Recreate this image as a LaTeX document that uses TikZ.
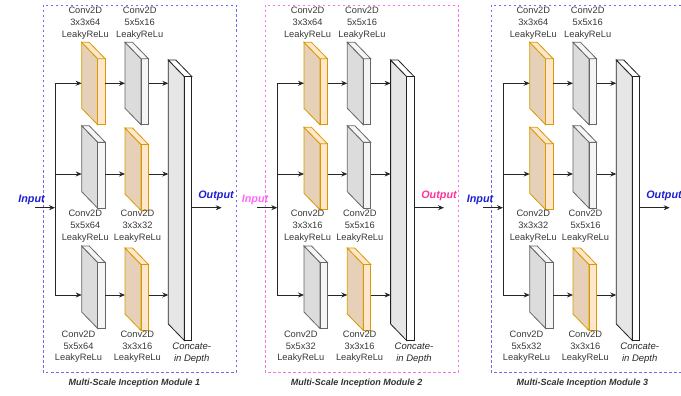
\documentclass[tikz,border=0pt]{standalone}
\usepackage{fontspec}
\setmainfont{Liberation Sans}
\usetikzlibrary{arrows.meta}

\definecolor{orside}{HTML}{E6D0B8}
\definecolor{orfront}{HTML}{FFE6CC}
\definecolor{orline}{HTML}{D79B00}
\definecolor{gyside}{HTML}{DCDCDC}
\definecolor{gyfront}{HTML}{F5F5F5}
\definecolor{gyline}{HTML}{666666}
\definecolor{ctside}{HTML}{E6E6E6}
\definecolor{ctfront}{HTML}{FFFFFF}
\definecolor{ctline}{HTML}{222222}
\definecolor{modblue}{HTML}{6A6AF5}
\definecolor{txtblue}{HTML}{1E1ED2}
\definecolor{modpink}{HTML}{FF70F0}
\definecolor{inpink}{HTML}{FF66FF}
\definecolor{outpink}{HTML}{FF3399}

% slab: name, x, y (back top left), kind (or/gy/ct), front height
\newcommand{\slab}[5]{%
  \draw[#4line,fill=#4side] (#2,#3) -- ++(16,16.5) -- ++(0,#5) -- ++(-16,-16.5) -- cycle;
  \draw[#4line,fill=#4front] ({#2+16},{#3+16.5}) rectangle ++(7.5,#5);
  \draw[#4line,fill=#4front] (#2,#3) -- ++(7.5,0) -- ++(16,16.5) -- ++(-7.5,0) -- cycle;
  \node[inner sep=0,outer sep=0,minimum width=23.5pt,minimum height={#5+16.5},anchor=north west] (#1) at (#2,#3) {};
}

\begin{document}
\begin{tikzpicture}[x=1pt,y=-1pt,line width=0.8pt,
  lbl/.style={font=\fontsize{9.3}{11.7}\selectfont,align=center,text=black!78,inner sep=0},
  cat/.style={font=\fontsize{9.5}{11.7}\selectfont\itshape,align=center,text=black!85,inner sep=0},
  io/.style={font=\fontsize{10.8}{13}\selectfont\bfseries\itshape,inner sep=0},
  modtitle/.style={font=\fontsize{9}{11}\selectfont\bfseries\itshape,text=black!80,inner sep=0},
  boxdash/.style={dash pattern=on 2.5pt off 2.5pt,line width=0.8pt},
  arr/.style={draw=black!85,-{Stealth[length=6pt,width=5pt]}}]
\useasboundingbox (0,0) rectangle (681,396);

% Module 1
\begin{scope}
\draw[boxdash,modblue] (43,5) rectangle (236,372);
\node[modtitle] (m1title) at (134.3,383) {Multi-Scale Inception Module 1};
\slab{m1a1}{81.7}{42.3}{or}{66}
\slab{m1a2}{125}{42.3}{gy}{66}
\slab{m1b1}{81.7}{125.7}{gy}{66}
\slab{m1b2}{125}{128}{or}{66}
\slab{m1c1}{81.7}{246}{gy}{66}
\slab{m1c2}{125}{248}{or}{66}
\slab{m1cat}{168.3}{60}{ct}{264}
\node[lbl] (m1la1) at (85.3,23.3) {Conv2D\\3x3x64\\LeakyReLu};
\node[lbl] (m1la2) at (139.7,23.3) {Conv2D\\5x5x16\\LeakyReLu};
\node[lbl] (m1lb1) at (85.3,226.3) {Conv2D\\5x5x64\\LeakyReLu};
\node[lbl] (m1lb2) at (137.5,226.3) {Conv2D\\3x3x32\\LeakyReLu};
\node[lbl] (m1lc1) at (78.5,347) {Conv2D\\5x5x64\\LeakyReLu};
\node[lbl] (m1lc2) at (137.3,347) {Conv2D\\3x3x16\\LeakyReLu};
\node[cat] (m1lcat) at (191.7,353) {Concate-\\in Depth};
\node[io,txtblue] (m1inl) at (31.5,200) {Input};
\node[io,txtblue] (m1outl) at (216,196) {Output};
\coordinate (m1in) at (35,207.7);
\coordinate (m1sp) at (55,207.7);
\coordinate (m1out) at (221.7,207.7);
\coordinate (m1r1) at (55,83.3);
\coordinate (m1r2) at (55,174);
\coordinate (m1r3) at (55,295);
\draw[black!85] (m1r1) -- (m1r3);
\draw[arr] (m1in) -- (m1sp);
\foreach \r/\b in {r1/a,r2/b,r3/c} {
  \draw[arr] (m1\r) -- (m1\b1.west |- m1\r);
  \draw[arr] (m1\b1.east |- m1\r) -- (m1\b2.west |- m1\r);
  \draw[arr] (m1\b2.east |- m1\r) -- (m1cat.west |- m1\r);
}
\draw[arr] (m1cat.east |- m1out) -- (m1out);
\end{scope}

% Module 2
\begin{scope}[xshift=222.3pt]
\draw[boxdash,modpink] (43,5) rectangle (236,372);
\node[modtitle] (m2title) at (134.3,383) {Multi-Scale Inception Module 2};
\slab{m2a1}{81.7}{42.3}{or}{66}
\slab{m2a2}{125}{42.3}{gy}{66}
\slab{m2b1}{81.7}{127.3}{or}{66}
\slab{m2b2}{125}{125.7}{gy}{66}
\slab{m2c1}{81.7}{246}{gy}{66}
\slab{m2c2}{125}{248}{or}{66}
\slab{m2cat}{168.3}{60}{ct}{264}
\node[lbl] (m2la1) at (85.3,23.3) {Conv2D\\3x3x64\\LeakyReLu};
\node[lbl] (m2la2) at (139.7,23.3) {Conv2D\\5x5x16\\LeakyReLu};
\node[lbl] (m2lb1) at (85.3,226.3) {Conv2D\\3x3x16\\LeakyReLu};
\node[lbl] (m2lb2) at (137.5,226.3) {Conv2D\\5x5x16\\LeakyReLu};
\node[lbl] (m2lc1) at (78.5,347) {Conv2D\\5x5x32\\LeakyReLu};
\node[lbl] (m2lc2) at (137.3,347) {Conv2D\\3x3x16\\LeakyReLu};
\node[cat] (m2lcat) at (191.7,353) {Concate-\\in Depth};
\node[io,inpink] (m2inl) at (32.7,200) {Input};
\node[io,outpink] (m2outl) at (216.7,196) {Output};
\coordinate (m2in) at (35,207.7);
\coordinate (m2sp) at (55,207.7);
\coordinate (m2out) at (221.7,207.7);
\coordinate (m2r1) at (55,83.3);
\coordinate (m2r2) at (55,174);
\coordinate (m2r3) at (55,295);
\draw[black!85] (m2r1) -- (m2r3);
\draw[arr] (m2in) -- (m2sp);
\foreach \r/\b in {r1/a,r2/b,r3/c} {
  \draw[arr] (m2\r) -- (m2\b1.west |- m2\r);
  \draw[arr] (m2\b1.east |- m2\r) -- (m2\b2.west |- m2\r);
  \draw[arr] (m2\b2.east |- m2\r) -- (m2cat.west |- m2\r);
}
\draw[arr] (m2cat.east |- m2out) -- (m2out);
\end{scope}

% Module 3
\begin{scope}[xshift=448pt]
\draw[boxdash,modblue] (43,5) rectangle (236,372);
\node[modtitle] (m3title) at (134.3,383) {Multi-Scale Inception Module 3};
\slab{m3a1}{81.7}{42.3}{or}{66}
\slab{m3a2}{125}{42.3}{gy}{66}
\slab{m3b1}{81.7}{127.3}{or}{66}
\slab{m3b2}{125}{125.7}{gy}{66}
\slab{m3c1}{81.7}{246}{gy}{66}
\slab{m3c2}{125}{248}{or}{66}
\slab{m3cat}{168.3}{60}{ct}{264}
\node[lbl] (m3la1) at (85.3,23.3) {Conv2D\\3x3x64\\LeakyReLu};
\node[lbl] (m3la2) at (139.7,23.3) {Conv2D\\5x5x16\\LeakyReLu};
\node[lbl] (m3lb1) at (85.3,226.3) {Conv2D\\3x3x32\\LeakyReLu};
\node[lbl] (m3lb2) at (137.5,226.3) {Conv2D\\5x5x16\\LeakyReLu};
\node[lbl] (m3lc1) at (78.5,347) {Conv2D\\5x5x32\\LeakyReLu};
\node[lbl] (m3lc2) at (137.3,347) {Conv2D\\3x3x16\\LeakyReLu};
\node[cat] (m3lcat) at (191.7,353) {Concate-\\in Depth};
\node[io,txtblue] (m3inl) at (32,200) {Input};
\node[io,txtblue] (m3outl) at (216,196) {Output};
\coordinate (m3in) at (35,207.7);
\coordinate (m3sp) at (55,207.7);
\coordinate (m3out) at (221.7,207.7);
\coordinate (m3r1) at (55,83.3);
\coordinate (m3r2) at (55,174);
\coordinate (m3r3) at (55,295);
\draw[black!85] (m3r1) -- (m3r3);
\draw[arr] (m3in) -- (m3sp);
\foreach \r/\b in {r1/a,r2/b,r3/c} {
  \draw[arr] (m3\r) -- (m3\b1.west |- m3\r);
  \draw[arr] (m3\b1.east |- m3\r) -- (m3\b2.west |- m3\r);
  \draw[arr] (m3\b2.east |- m3\r) -- (m3cat.west |- m3\r);
}
\draw[arr] (m3cat.east |- m3out) -- (m3out);
\end{scope}
\end{tikzpicture}
\end{document}
